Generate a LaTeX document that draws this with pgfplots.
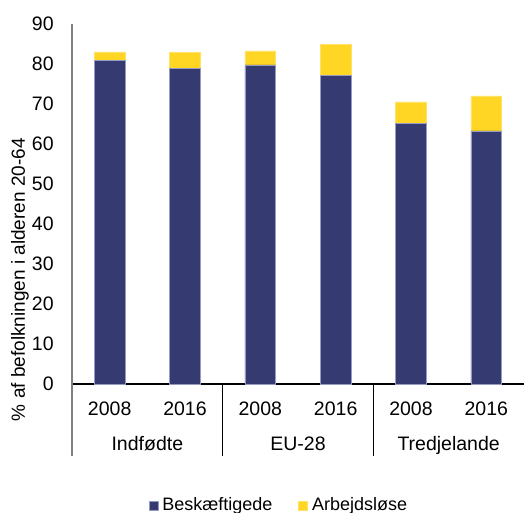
\documentclass[border=0pt]{standalone}
\usepackage{pgfplots}
\pgfplotsset{compat=1.18}
\usepackage{fontspec}
\setmainfont{Liberation Sans}
\definecolor{navyb}{RGB}{53,59,112}
\definecolor{yell}{RGB}{255,214,35}
\definecolor{edgeb}{RGB}{150,155,195}
\tikzset{yr/.style={anchor=base, inner sep=0pt, font=\fontsize{9.75}{12}\selectfont}}
\begin{document}
\begin{tikzpicture}
\begin{axis}[
  at={(0,0)}, anchor=south west,
  scale only axis, width=226pt, height=180pt,
  xmin=-0.5, xmax=5.5, ymin=0, ymax=90,
  ytick={0,10,...,90}, xtick=\empty,
  axis x line*=bottom, axis y line*=left,
  axis line style={-},
  x axis line style={black, line width=0.6pt},
  y axis line style={gray, line width=0.75pt},
  major tick length=0pt,
  /pgf/number format/assume math mode=true,
  ticklabel style={font=\fontsize{9.75}{12}\selectfont},
  yticklabel style={anchor=east, inner sep=0pt, xshift=-9pt},
  ybar stacked, bar width=15.35pt,
  clip=false,
  legend columns=2,
  legend style={draw=none, fill=none, at={(0.46,-0.3375)}, anchor=center,
    font=\fontsize{9}{11}\selectfont, column sep=0pt,
    /tikz/every even column/.append style={column sep=11pt}},
  legend image code/.code={\fill[#1] (0pt,-2.25pt) rectangle (4.5pt,2.25pt);},
]
\addplot[fill=navyb, draw=edgeb, line width=0.3pt] coordinates {(0,80.8) (1,78.9) (2,79.75) (3,77.1) (4,65.2) (5,63.25)};
\addlegendentry{Beskæftigede}
\addplot[fill=yell, draw=yell!70!white, line width=0.3pt] coordinates {(0,2.2) (1,4.0) (2,3.5) (3,7.8) (4,5.3) (5,8.75)};
\addlegendentry{Arbejdsløse}
\draw[gray, line width=0.75pt] (axis cs:-0.5,0) -- ([yshift=-36pt]axis cs:-0.5,0);
\draw[black, line width=0.6pt] (axis cs:1.5,0) -- ([yshift=-36pt]axis cs:1.5,0);
\draw[black, line width=0.6pt] (axis cs:3.5,0) -- ([yshift=-36pt]axis cs:3.5,0);
\node[yr] at ([yshift=-15.85pt]axis cs:0,0) {2008};
\node[yr] at ([yshift=-15.85pt]axis cs:1,0) {2016};
\node[yr] at ([yshift=-15.85pt]axis cs:2,0) {2008};
\node[yr] at ([yshift=-15.85pt]axis cs:3,0) {2016};
\node[yr] at ([yshift=-15.85pt]axis cs:4,0) {2008};
\node[yr] at ([yshift=-15.85pt]axis cs:5,0) {2016};
\node[yr] at ([yshift=-33pt]axis cs:0.5,0) {Indfødte};
\node[yr] at ([yshift=-33pt]axis cs:2.5,0) {EU-28};
\node[yr] at ([yshift=-33pt]axis cs:4.5,0) {Tredjelande};
\node[rotate=90, anchor=center, inner sep=0pt, font=\fontsize{9.5}{11}\selectfont] at ([xshift=-26pt]rel axis cs:0,0.29) {\% af befolkningen i alderen 20-64};
\end{axis}
\pgfresetboundingbox
\useasboundingbox (-36pt,-64.5pt) rectangle (226pt,192pt);
\end{tikzpicture}
\end{document}
